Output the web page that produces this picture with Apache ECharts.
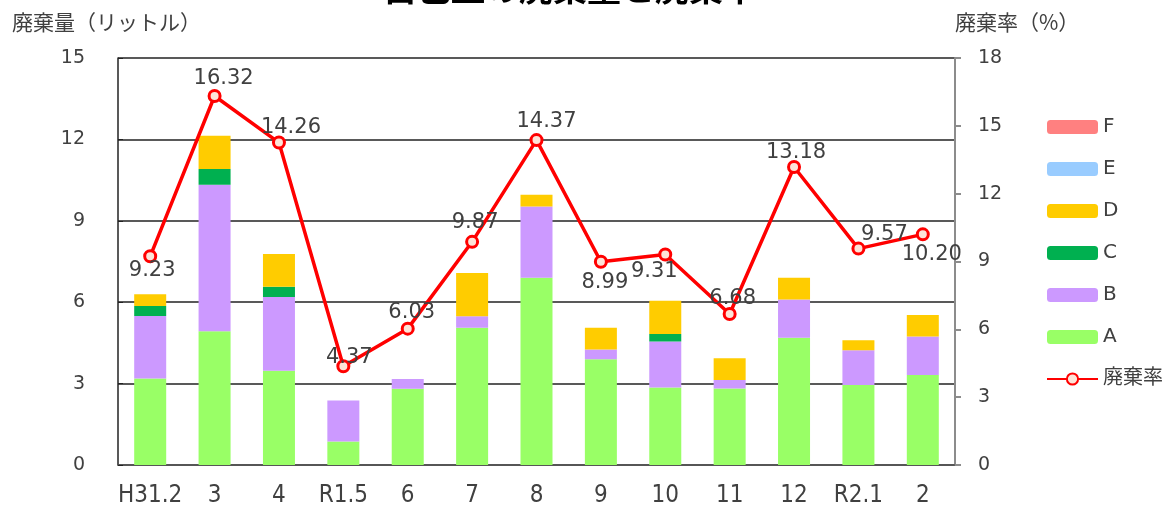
<!DOCTYPE html>
<html>
<head>
<meta charset="utf-8">
<script src="https://cdn.jsdelivr.net/npm/echarts@6/dist/echarts.min.js"></script>
<style>
  html, body { margin: 0; padding: 0; background: #fff; }
  #chart { width: 1174px; height: 508px; }
</style>
</head>
<body>
<div id="chart"></div>
<script>
// 月（カテゴリ）
var months = ['H31.2', '3', '4', 'R1.5', '6', '7', '8', '9', '10', '11', '12', 'R2.1', '2'];
// 廃棄量（リットル）
var dataA = [3.19, 4.93, 3.47, 0.87, 2.81, 5.06, 6.90, 3.90, 2.86, 2.82, 4.69, 2.95, 3.32];
var dataB = [2.30, 5.40, 2.72, 1.51, 0.36, 0.42, 2.63, 0.36, 1.69, 0.31, 1.41, 1.28, 1.42];
var dataC = [0.37, 0.58, 0.38, 0, 0, 0, 0, 0, 0.28, 0, 0, 0, 0];
var dataD = [0.43, 1.22, 1.21, 0, 0, 1.60, 0.43, 0.80, 1.22, 0.80, 0.80, 0.37, 0.79];
var dataE = [0, 0, 0, 0, 0, 0, 0, 0, 0, 0, 0, 0, 0];
var dataF = [0, 0, 0, 0, 0, 0, 0, 0, 0, 0, 0, 0, 0];
// 廃棄率（%）
var rate = [9.23, 16.32, 14.26, 4.37, 6.03, 9.87, 14.37, 8.99, 9.31, 6.68, 13.18, 9.57, 10.20];
// ラベル位置の微調整
var labelOffsets = [[2, 14], [9, -17], [12, -15], [6, -9], [4, -16], [3, -19], [10, -19],
                    [4, 21], [-11, 17], [3, -15], [2, -14], [26, -14], [9, 20]];

var font = '"DejaVu Sans", "Noto Sans CJK JP", sans-serif';
var jpFont = '"Noto Sans CJK JP", sans-serif';
var txt = '#404040';

var myChart = echarts.init(document.getElementById('chart'));

function barSeries(name, data, color) {
    return {
        name: name,
        type: 'bar',
        stack: 'total',
        barWidth: 32,
        data: data,
        itemStyle: { color: color }
    };
}

var option = {
    animation: false,
    textStyle: { fontFamily: font },
    title: {
        text: '自己血の廃棄量と廃棄率',
        left: 383,
        top: -29,
        padding: 0,
        textStyle: { fontFamily: jpFont, fontSize: 34, fontWeight: 'bold', color: '#000' }
    },
    legend: {
        orient: 'vertical',
        left: 1046,
        top: 117,
        padding: 0,
        itemWidth: 51,
        itemHeight: 14,
        itemGap: 22,
        data: ['F', 'E', 'D', 'C', 'B', 'A', '廃棄率'],
        textStyle: { fontFamily: font, fontSize: 20, color: txt }
    },
    graphic: [
        { type: 'text', left: 12, top: 12, style: { text: '廃棄量（リットル）', font: '21px ' + jpFont, fill: txt } },
        { type: 'text', left: 955, top: 12, style: { text: '廃棄率（%）', font: '21px ' + jpFont, fill: txt } }
    ],
    grid: { left: 118, right: 219, top: 58, bottom: 42 },
    xAxis: {
        type: 'category',
        data: months,
        axisLine: { lineStyle: { color: '#555', width: 1.5 } },
        axisTick: { inside: true, length: 6, lineStyle: { color: '#555' } },
        axisLabel: {
            interval: 0,
            fontFamily: '"DejaVu Sans"',
            fontWeight: 'condensed',
            fontSize: 24,
            color: txt,
            margin: 19
        }
    },
    yAxis: [
        {
            type: 'value',
            min: 0, max: 15, interval: 3,
            axisLine: { show: true, lineStyle: { color: '#222', width: 1.5 } },
            axisTick: { show: true, inside: true, length: 5, lineStyle: { color: '#222' } },
            axisLabel: { fontSize: 19, color: txt, margin: 33 },
            splitLine: { lineStyle: { color: '#222', width: 1.5 } }
        },
        {
            type: 'value',
            min: 0, max: 18, interval: 3,
            axisLine: { show: true, lineStyle: { color: '#8c8c8c', width: 2 } },
            axisTick: { show: true, length: 6, lineStyle: { color: '#8c8c8c', width: 2 } },
            axisLabel: { fontSize: 19, color: txt, margin: 23 },
            splitLine: { show: false }
        }
    ],
    series: [
        barSeries('A', dataA, '#99ff66'),
        barSeries('B', dataB, '#cc99ff'),
        barSeries('C', dataC, '#00b050'),
        barSeries('D', dataD, '#ffcc00'),
        barSeries('E', dataE, '#99ccff'),
        barSeries('F', dataF, '#ff8080'),
        {
            name: '廃棄率',
            type: 'line',
            yAxisIndex: 1,
            z: 5,
            symbol: 'circle',
            symbolSize: 11,
            lineStyle: { color: '#ff0000', width: 3.5 },
            itemStyle: { color: '#fde4d8', borderColor: '#ff0000', borderWidth: 3 },
            data: rate.map(function (v, i) {
                return {
                    value: v,
                    label: { offset: labelOffsets[i] }
                };
            }),
            label: {
                show: true,
                position: 'inside',
                fontSize: 21,
                color: txt,
                formatter: function (p) { return p.value.toFixed(2); }
            }
        }
    ]
};

myChart.setOption(option);
</script>
</body>
</html>
